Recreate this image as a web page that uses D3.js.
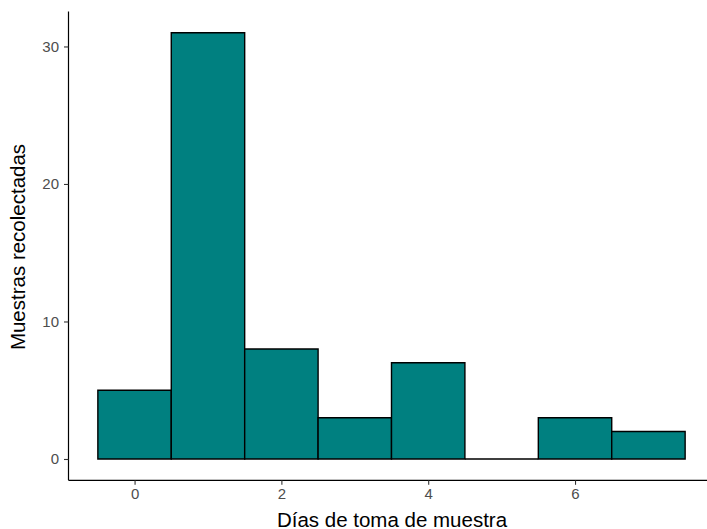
<!DOCTYPE html>
<html>
<head>
<meta charset="utf-8">
<script src="https://cdn.jsdelivr.net/npm/d3@7"></script>
<style>
  html, body { margin: 0; padding: 0; background: #fff; }
  svg { display: block; font-family: "Liberation Sans", Arial, sans-serif; }
</style>
</head>
<body>
<svg id="chart" width="707" height="529"></svg>
<script>
// Histogram bins (centre of each one-day bin) and sample counts
const binCenters = [0, 1, 2, 3, 4, 5, 6, 7];
const counts = [5, 31, 8, 3, 7, 0, 3, 2];
const xTicks = [0, 2, 4, 6];
const yTicks = [0, 10, 20, 30];
const xTitle = "Días de toma de muestra";
const yTitle = "Muestras recolectadas";
const binWidth = 1;

const svg = d3.select("#chart");

const panel = { left: 68.5, right: 714.5, top: 11.4, bottom: 480.3 };

const x = d3.scaleLinear().domain([-0.9, 7.9]).range([panel.left, panel.right]);
const y = d3.scaleLinear().domain([-1.55, 32.55]).range([panel.bottom, panel.top]);

// Bars drawn as closed paths so an empty bin still shows its outline
svg.append("g")
  .selectAll("path")
  .data(binCenters.map((c, i) => ({ c, n: counts[i] })))
  .join("path")
  .attr("d", d => {
    const x0 = x(d.c - binWidth / 2), x1 = x(d.c + binWidth / 2);
    const y0 = y(0), y1 = y(d.n);
    return `M${x0},${y0}H${x1}V${y1}H${x0}Z`;
  })
  .attr("fill", "#008080")
  .attr("stroke", "#000")
  .attr("stroke-width", 1.4);

// Y axis
const yAxis = svg.append("g")
  .attr("transform", `translate(${panel.left},0)`)
  .call(d3.axisLeft(y).tickValues(yTicks).tickSize(4.5).tickPadding(5).tickFormat(d3.format("d")));
yAxis.select(".domain").attr("d", `M0,${panel.top}V${panel.bottom}`).attr("stroke", "#000").attr("stroke-width", 1.2);
yAxis.selectAll(".tick line").attr("stroke", "#333").attr("stroke-width", 1.1);
yAxis.selectAll(".tick text").attr("fill", "#4d4d4d").style("font-size", "15px");

// X axis
const xAxis = svg.append("g")
  .attr("transform", `translate(0,${panel.bottom})`)
  .call(d3.axisBottom(x).tickValues(xTicks).tickSize(4.5).tickPadding(4).tickFormat(d3.format("d")));
xAxis.select(".domain").attr("d", `M${panel.left},0H${panel.right}`).attr("stroke", "#000").attr("stroke-width", 1.2);
xAxis.selectAll(".tick line").attr("stroke", "#333").attr("stroke-width", 1.1);
xAxis.selectAll(".tick text").attr("fill", "#4d4d4d").style("font-size", "15px");

// Axis titles
svg.append("text")
  .attr("x", 392)
  .attr("y", 526.5)
  .attr("text-anchor", "middle")
  .style("font-size", "20.5px")
  .attr("fill", "#000")
  .text(xTitle);

svg.append("text")
  .attr("transform", `translate(25,247) rotate(-90)`)
  .attr("text-anchor", "middle")
  .style("font-size", "20.5px")
  .attr("fill", "#000")
  .text(yTitle);
</script>
</body>
</html>
